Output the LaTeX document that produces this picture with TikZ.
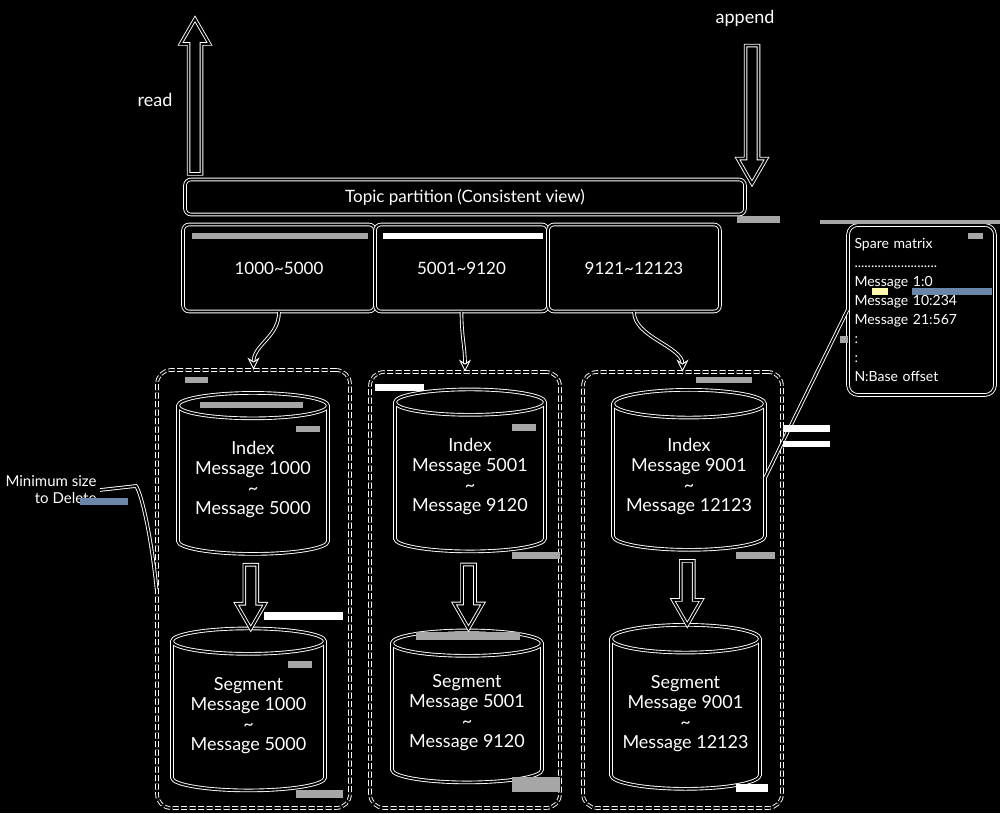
\documentclass[tikz,border=0pt]{standalone}
\usepackage{fontspec}
\setmainfont{Lato}
\usetikzlibrary{shapes.geometric,shapes.arrows,arrows.meta,calc}

\begin{document}
\begin{tikzpicture}[x=1pt, y=-1pt,
		ln/.style={draw=white, double=black, line width=0.9pt, double distance=1.8pt},
		box/.style={ln, rounded corners=6pt, text=white, inner sep=0pt, font=\fontsize{17}{19}\selectfont},
		grp/.style={ln, rounded corners=14pt, dash pattern=on 6pt off 2.5pt},
		cyl/.style={ln, cylinder, shape border rotate=90, aspect=0.22, inner sep=0pt, text=white, align=center, font=\fontsize{18}{20}\selectfont},
		fat/.style={ln, single arrow, single arrow tip angle=60, single arrow head extend=8pt, inner sep=6pt},
		lbl/.style={text=white, font=\fontsize{18}{20}\selectfont},
		hd/.style={-{Stealth[open, length=12pt, width=12pt]}}]
		\useasboundingbox (0,0) rectangle (1000,813);
		\fill[black] (0,0) rectangle (1000,813);

		\node[lbl] (read) at (155,100) {read};
		\node[lbl] (append) at (745,18) {append};
		\node[fat, minimum height=155pt, shape border rotate=90] (up) at (195,102) {};
		\node[fat, minimum height=138pt, shape border rotate=270] (down) at (752,109) {};

		\node[box, minimum width=560pt, minimum height=35pt] (topic) at (465,197) {Topic partition (Consistent view)};
		\node[box, minimum width=192pt, minimum height=87pt] (b1) at (279,268) {1000\textasciitilde5000};
		\node[box, minimum width=173pt, minimum height=87pt] (b2) at (461.5,268) {5001\textasciitilde9120};
		\node[box, minimum width=172pt, minimum height=87pt] (b3) at (634,268) {9121\textasciitilde12123};

		\node[grp, minimum width=193pt, minimum height=438pt] (g1) at (253.5,589) {};
		\node[grp, minimum width=190pt, minimum height=436pt] (g2) at (465,590) {};
		\node[grp, minimum width=199pt, minimum height=436pt] (g3) at (682.5,590) {};

		\node[cyl, minimum width=150pt, minimum height=161pt] (idx1) at (253,480) {Index\\Message 1000\\\textasciitilde\\Message 5000};
		\node[cyl, minimum width=153pt, minimum height=162pt] (seg1) at (248.5,716) {Segment\\Message 1000\\\textasciitilde\\Message 5000};
		\node[cyl, minimum width=150pt, minimum height=162pt] (idx2) at (470,477) {Index\\Message 5001\\\textasciitilde\\Message 9120};
		\node[cyl, minimum width=150pt, minimum height=152pt] (seg2) at (467,713) {Segment\\Message 5001\\\textasciitilde\\Message 9120};
		\node[cyl, minimum width=152pt, minimum height=160pt] (idx3) at (689,477) {Index\\Message 9001\\\textasciitilde\\Message 12123};
		\node[cyl, minimum width=149pt, minimum height=164pt] (seg3) at (685.5,714) {Segment\\Message 9001\\\textasciitilde\\Message 12123};

		\node[fat, minimum height=64pt, shape border rotate=270] (a1) at ($(idx1.south)!0.5!(seg1.north)$) {};
		\node[fat, minimum height=64pt, shape border rotate=270] (a2) at ($(idx2.south)!0.5!(seg2.north)$) {};
		\node[fat, minimum height=64pt, shape border rotate=270] (a3) at ($(idx3.south)!0.5!(seg3.north)$) {};

		\node[ln, rounded corners=10pt, minimum width=147pt, minimum height=170pt, text width=134pt, align=left, text=white, inner sep=0pt, font=\fontsize{14}{19}\selectfont] (sparse) at (921.5,310) {Spare matrix\\.........................\\Message 1:0\\Message 10:234\\Message 21:567\\:\\:\\N:Base offset};
		\node[text=white, align=right, anchor=east, font=\fontsize{15}{17}\selectfont] (minsz) at (100,490) {Minimum size\\to Delete};

		\draw[ln, hd] (b1.south) .. controls +(0,25) and +(0,-25) .. (g1.north);
		\draw[ln, hd] (b2.south) .. controls +(0,25) and +(0,-25) .. (g2.north);
		\draw[ln, hd] (b3.south) .. controls +(0,25) and +(0,-25) .. (g3.north);
		\draw[ln] (idx3.east) -- (sparse.west);
		\draw[ln] (minsz.east) -- ++(36,-4) .. controls +(4,4) and +(-6,-60) .. (g1.west);

		\fill[gray!70] (737,216) rectangle (780,223);
		\fill[gray!70] (192,233) rectangle (368,239);
		\fill[gray!70] (185,377) rectangle (208,383);
		\fill[gray!70] (200,402) rectangle (303,408);
		\fill[gray!70] (296,426) rectangle (320,432);
		\fill[gray!70] (288,661) rectangle (312,668);
		\fill[gray!70] (296,790) rectangle (343,798);
		\fill[gray!70] (512,424) rectangle (536,431);
		\fill[gray!70] (512,552) rectangle (560,559);
		\fill[gray!70] (416,632) rectangle (520,640);
		\fill[gray!70] (512,777) rectangle (560,792);
		\fill[gray!70] (696,377) rectangle (752,383);
		\fill[gray!70] (736,552) rectangle (775,559);
		\fill[gray!70] (820,220) rectangle (1000,224);
		\fill[gray!70] (968,233) rectangle (983,239);
		\fill[gray!70] (840,336) rectangle (848,343);
		\fill[white] (383,233) rectangle (543,239);
		\fill[white] (264,612) rectangle (343,620);
		\fill[white] (375,384) rectangle (424,391);
		\fill[white] (783,425) rectangle (830,432);
		\fill[white] (783,441) rectangle (830,447);
		\fill[white] (736,784) rectangle (768,792);
		\definecolor{steel}{RGB}{106,134,168}
		\fill[steel] (80,498) rectangle (128,505);
		\fill[steel] (912,288) rectangle (992,295);
		\fill[yellow!30] (872,288) rectangle (888,295);
	\end{tikzpicture}
\end{document}
